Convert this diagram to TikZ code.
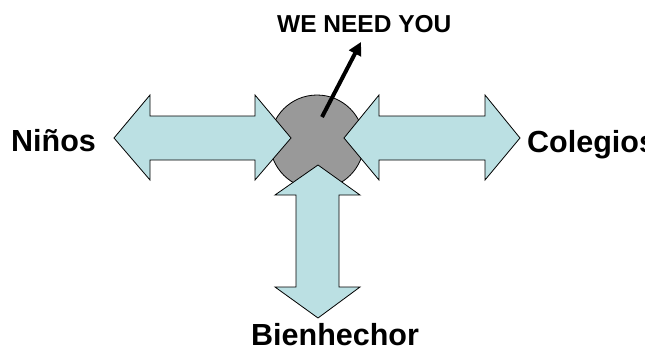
\documentclass[tikz,border=0pt]{standalone}
\usepackage{fontspec}
\setmainfont{Liberation Sans}
\usetikzlibrary{arrows.meta}
\definecolor{arrowfill}{HTML}{BBE0E3}
\definecolor{hubfill}{HTML}{999999}
\tikzset{
  dblarrow/.style={draw=black, line width=0.8pt, fill=arrowfill, line join=miter},
  hub/.style={circle, draw=black, line width=0.8pt, fill=hubfill, minimum size=94pt, inner sep=0pt},
  bigtext/.style={font=\bfseries\fontsize{30.5}{30.5}\selectfont, inner sep=0pt, anchor=base west},
  toptext/.style={font=\bfseries\fontsize{24.5}{24.5}\selectfont, inner sep=0pt, anchor=base west},
  pointer/.style={line width=4pt, -{Triangle[length=13pt,width=13pt]}}
}
\begin{document}
\begin{tikzpicture}[x=1pt,y=-1pt]
\useasboundingbox (0,0) rectangle (645,356);
\clip (0,0) rectangle (645,356);
\node[hub] (hub) at (317,142) {};
% left double arrow
\draw[dblarrow] (114,138) -- (150,95) -- (150,116) -- (255,116) -- (255,95) -- (291,138)
  -- (255,180) -- (255,160) -- (150,160) -- (150,180) -- cycle;
% right double arrow
\draw[dblarrow] (344,138) -- (379,95) -- (379,116) -- (485,116) -- (485,95) -- (520,138)
  -- (485,180) -- (485,160) -- (379,160) -- (379,180) -- cycle;
% vertical double arrow
\draw[dblarrow] (318,165) -- (360,195) -- (339,195) -- (339,287) -- (360,287) -- (318,318)
  -- (275,287) -- (296,287) -- (296,195) -- (275,195) -- cycle;
\node[bigtext] (ninos) at (11,151) {Niños};
\node[bigtext] (colegios) at (527,152) {Colegios};
\node[bigtext] (bien) at (251,345) {Bienhechor};
\node[toptext] (need) at (277,32) {WE NEED YOU};
\coordinate (pstart) at (322,117);
\coordinate (ptip) at (361,42);
\draw[pointer] (pstart) -- (ptip);
\end{tikzpicture}
\end{document}
